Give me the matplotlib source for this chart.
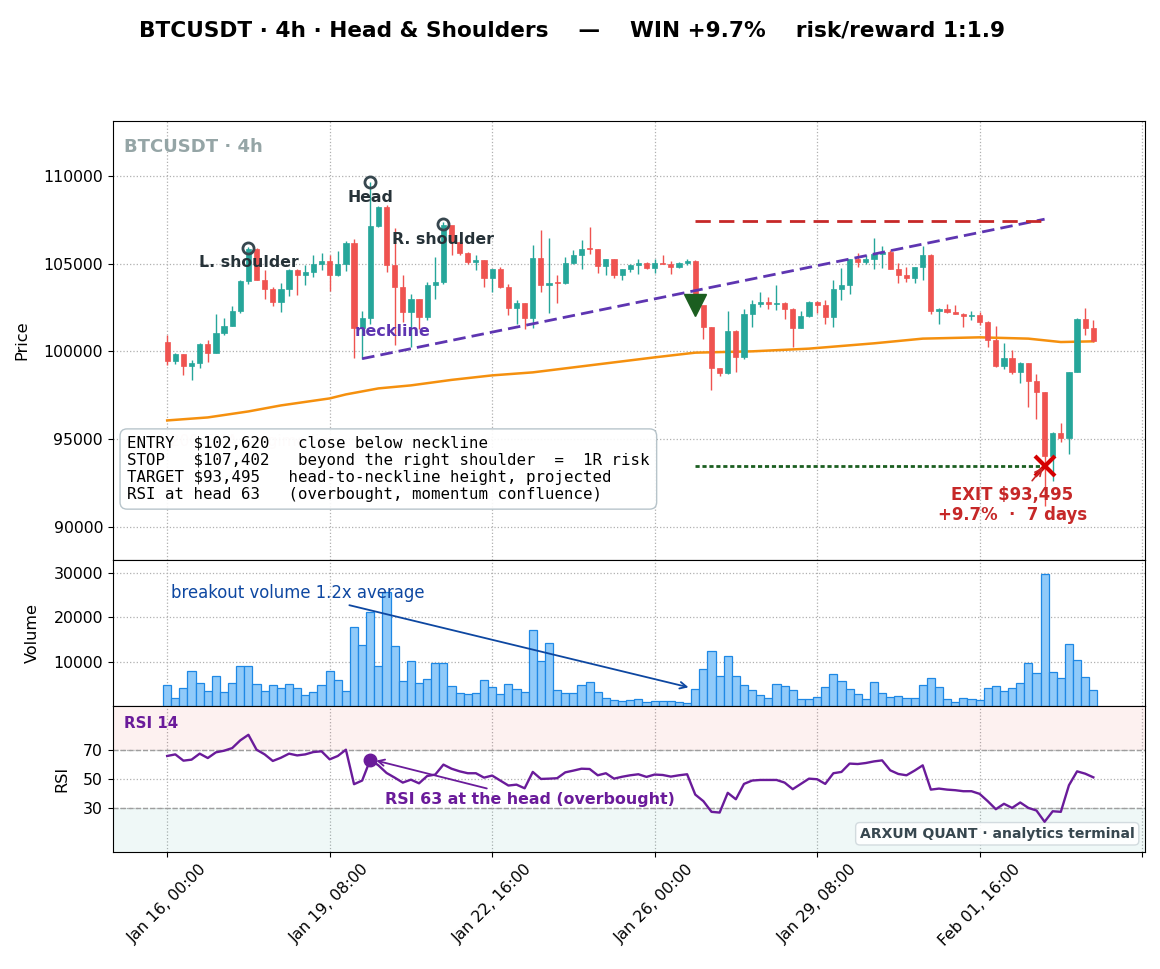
import matplotlib
matplotlib.use("Agg")
import matplotlib.pyplot as plt
import numpy as np
from datetime import datetime, timedelta

# ---- data (4h candles, index 0 = Jan 16 00:00) ----
start = datetime(2025, 1, 16, 0, 0)
first_open = 100535
close = [99452, 99870, 99167, 99338, 100440, 99927, 101068, 101467, 102284, 104034,
         105858, 104091, 103577, 102817, 103577, 104623, 104376, 104527, 105002, 105155,
         104338, 104965, 106200, 101353, 101923, 107132, 108234, 104908, 103672, 102246,
         102969, 101961, 103767, 103976, 107189, 106238, 105611, 105098, 105193, 104204,
         104680, 103672, 102474, 102760, 101904, 105326, 103805, 103919, 103881, 105060,
         105478, 105858, 105820, 104889, 105250, 104338, 104680, 104908, 105060, 104756,
         105060, 105003, 104813, 105041, 105136, 102620, 101391, 99072, 98786, 101144,
         99680, 102113, 102684, 102817, 102722, 102779, 102436, 101353, 102018, 102797,
         102664, 101961, 103577, 103767, 105250, 105098, 105288, 105573, 105668, 104718,
         104376, 104185, 104813, 105478, 102284, 102436, 102246, 102151, 102018, 102094,
         101676, 100631, 99148, 99642, 98825, 99357, 98293, 97682, 94015, 95343,
         95081, 98822, 101868, 101354, 100590]
high = [100916, 99927, 99870, 99528, 100478, 100631, 102151, 101923, 102608, 104091,
        105953, 105896, 104661, 103672, 103900, 104699, 104718, 104908, 105478, 105611,
        105478, 105725, 106295, 106428, 102303, 109622, 108272, 108329, 107056, 104338,
        103292, 102969, 103957, 105383, 107379, 107132, 106333, 105668, 105478, 105193,
        104700, 104813, 103824, 102950, 102760, 106086, 106904, 106466, 104338, 105383,
        105763, 106333, 107094, 105820, 105288, 105250, 104700, 104965, 105288, 105098,
        105288, 105516, 105136, 105098, 105288, 105193, 102608, 101391, 99072, 102303,
        101201, 102436, 102912, 103387, 103102, 103805, 102817, 102474, 102303, 102855,
        102855, 102912, 104053, 104775, 105288, 105630, 105478, 106485, 106010, 105763,
        105041, 104813, 104830, 106010, 105573, 102460, 102722, 102627, 102189, 102284,
        102246, 101714, 101448, 100497, 100060, 99400, 99357, 98691, 97682, 95400,
        95914, 98850, 101900, 102472, 101771]
low = [99205, 99300, 98634, 98387, 99072, 99395, 99927, 100954, 101429, 102189,
       103862, 104053, 103007, 102608, 102246, 103140, 103197, 103767, 104243, 104661,
       103444, 104300, 104566, 99642, 99585, 101581, 107094, 104528, 100345, 101676,
       100250, 101296, 101771, 103007, 103862, 105478, 105478, 105002, 104623, 103672,
       103387, 103634, 102056, 101581, 101258, 101334, 103387, 102189, 102760, 103824,
       105002, 104680, 105573, 104490, 104376, 104204, 104090, 104509, 104433, 104718,
       104490, 104965, 104433, 104775, 104927, 102531, 100725, 97800, 98600, 98730,
       98825, 99585, 101391, 102531, 102436, 102341, 101828, 100250, 101353, 101961,
       102189, 101581, 101391, 102912, 103292, 104813, 104965, 104680, 104775, 104680,
       103919, 103957, 103919, 104090, 102151, 101581, 102189, 102113, 101391, 101771,
       101486, 100250, 99110, 99015, 98730, 98178, 96826, 96164, 91220, 92646,
       94830, 94169, 98800, 100915, 100533]
volume = [4650, 1725, 3970, 7790, 5090, 3300, 6670, 3070, 5090, 9060,
          9060, 4870, 3300, 4650, 3970, 4870, 3970, 2400, 3070, 4650,
          7790, 5770, 3300, 17900, 13860, 21270, 8910, 25690, 13630, 5540,
          10040, 5090, 5990, 9810, 9590, 4420, 2850, 2620, 2850, 5770,
          4190, 2620, 4870, 3750, 3070, 17230, 10040, 14310, 3520, 2850,
          2850, 4650, 5320, 3070, 1725, 1275, 1050, 1275, 1500, 825,
          1050, 1050, 1050, 825, 600, 3750, 8250, 12525, 6675, 11175,
          6675, 4650, 3525, 2400, 1725, 4875, 4425, 3525, 1500, 1500,
          1950, 4200, 7125, 5550, 3750, 2625, 1500, 5325, 2850, 1950,
          2175, 1725, 1725, 4650, 6225, 4200, 1500, 825, 1725, 1500,
          1275, 3975, 4425, 3300, 3975, 5100, 9600, 7350, 29850, 7575,
          6225, 14100, 10275, 6450, 3525]
rsi = [65.7, 66.8, 62.5, 63.2, 67.3, 64.3, 68.2, 69.3, 71.1, 76.4,
       80.2, 70.0, 66.8, 62.3, 64.5, 67.3, 66.1, 66.8, 68.4, 68.9,
       63.4, 65.7, 70.0, 46.4, 48.9, 63.2, 59.3, 54.1, 50.9, 47.5,
       49.5, 47.0, 52.0, 53.0, 59.8, 57.0, 55.2, 53.9, 53.9, 50.9,
       52.3, 48.9, 45.5, 46.1, 43.6, 54.8, 50.0, 50.2, 50.5, 54.5,
       55.7, 57.0, 56.8, 52.5, 53.9, 50.2, 51.5, 52.5, 53.2, 51.4,
       53.0, 52.7, 51.6, 52.5, 53.2, 39.3, 34.8, 27.5, 27.0, 40.5,
       36.1, 46.6, 48.9, 49.3, 49.3, 49.3, 47.5, 43.0, 46.6, 50.2,
       49.8, 46.6, 53.9, 54.8, 60.5, 60.2, 60.9, 62.0, 62.7, 55.9,
       53.4, 52.5, 55.7, 59.3, 42.7, 43.4, 42.7, 42.3, 41.6, 41.6,
       39.8, 34.8, 29.3, 33.0, 30.2, 33.9, 30.2, 28.4, 20.7, 27.9,
       27.5, 45.7, 55.2, 53.6, 51.1]
ema_idx = [0, 5, 10, 14, 20, 22, 26, 30, 35, 40, 45, 51, 60, 65, 72, 79, 87, 93, 100, 106, 110, 114]
ema_val = [96068, 96239, 96581, 96923, 97322, 97550, 97892, 98064, 98377, 98634, 98805, 99147,
           99660, 99928, 100003, 100157, 100459, 100727, 100801, 100727, 100533, 100573]

entry_idx, exit_idx = 65, 108
entry, stop, target = 102620, 107402, 93495
rsi_head = 63
neck_idx = [24, 108]
neck_val = [99585, 107530]
pivots = [(10, 105900, "L. shoulder"), (25, 109622, "Head"), (34, 107250, "R. shoulder")]

UP, DN = "#26a69a", "#ef5350"
PURPLE = "#5e35b1"

n = len(close)
x = np.arange(n)
cl = np.array(close, dtype=float)
op = np.r_[first_open, cl[:-1]]
col = np.where(cl >= op, UP, DN)

fig, axes = plt.subplots(3, 1, sharex=True, figsize=(11.6, 9.69), dpi=100,
                         gridspec_kw={'height_ratios': [3, 1, 1]})
ax1, ax2, ax3 = axes
plt.subplots_adjust(left=0.0972, right=0.987, top=0.8751, bottom=0.1207, hspace=0)
fig.suptitle("BTCUSDT · 4h · Head & Shoulders    —    WIN +9.7%    risk/reward 1:1.9",
             x=0.493, y=0.979, fontsize=15.6, fontweight="bold")

# ---- price panel ----
ax1.vlines(x, low, high, colors=col, lw=1, zorder=2)
body = np.maximum(np.abs(cl - op), 45)
ax1.bar(x, body, bottom=np.minimum(op, cl), width=0.64, color=col, edgecolor=col, lw=0.5, zorder=3)
ax1.plot(ema_idx, ema_val, color="#f5900e", lw=1.8, zorder=2)

ax1.plot(neck_idx, neck_val, color=PURPLE, lw=2, ls=(0, (4.5, 2.2)), zorder=4)
ax1.text(27.8, 101150, "neckline", color=PURPLE, fontsize=11.5, fontweight="bold",
         ha="center", va="center", zorder=5)
ax1.hlines(stop, entry_idx, exit_idx, color="#c62828", lw=2, linestyles=[(0, (5.5, 3))], zorder=4)
ax1.hlines(target, entry_idx, exit_idx - 0.5, color="#1b5e20", lw=2, linestyles=[(0, (1.5, 1))], zorder=4)

for i, h, name in pivots:
    ax1.plot(i, h, "o", ms=8, mfc="none", mec="#37474f", mew=2, zorder=6)
    ax1.text(i, h - 850, name, fontsize=11.3, fontweight="bold", color="#263238",
             ha="center", va="center", zorder=6)

ax1.plot(entry_idx, entry, "v", ms=16, color="#1b5e20", zorder=7)
ax1.plot(exit_idx, target, "x", ms=15, mew=3, color="#d50000", zorder=7)
ax1.annotate("EXIT $93,495\n+9.7%  ·  7 days", xy=(exit_idx, target), xytext=(104, 91250),
             ha="center", va="center", fontsize=11.9, fontweight="bold", color="#c62828",
             arrowprops=dict(arrowstyle="->", color="#c62828", lw=1.2), zorder=7)

ax1.text(0.011, 0.94, "BTCUSDT · 4h", transform=ax1.transAxes, fontsize=13,
         fontweight="bold", color="#95a5a6", va="center")
# EMA caption, mostly hidden behind the info box
ax1.text(0.35, 94640, "200-EMA · regime line", color="#ef9a9a", fontsize=11, alpha=0.35)
info = ("ENTRY  $102,620   close below neckline\n"
        "STOP   $107,402   beyond the right shoulder  =  1R risk\n"
        "TARGET $93,495   head-to-neckline height, projected\n"
        "RSI at head 63   (overbought, momentum confluence)")
ax1.text(0.0139, 0.2066, info, transform=ax1.transAxes, family="DejaVu Sans Mono",
         fontsize=11.3, va="center", ha="left", zorder=8, linespacing=1.17,
         bbox=dict(boxstyle="round,pad=0.45", fc="white", ec="#b0bec5", alpha=0.9))

ax1.set_ylim(88140, 113120)
ax1.set_yticks([90000, 95000, 100000, 105000, 110000])
ax1.set_ylabel("Price", fontsize=11.6, labelpad=10)

# ---- volume panel ----
ax2.bar(x, volume, width=1.0, color="#90caf9", edgecolor="#1e88e5", lw=0.9, zorder=3)
ax2.annotate("breakout volume 1.2x average", xy=(entry_idx - 0.5, volume[entry_idx] + 300),
             xytext=(0.5, 25600), ha="left", va="center", fontsize=11.9, color="#0d47a1",
             arrowprops=dict(arrowstyle="->", color="#0d47a1", lw=1.3), zorder=5)
ax2.set_ylim(0, 33100)
ax2.set_yticks([10000, 20000, 30000])
ax2.set_ylabel("Volume", fontsize=11.6, labelpad=10)

# ---- RSI panel ----
ax3.axhspan(70, 100, color="#e53935", alpha=0.07, lw=0)
ax3.axhspan(0, 30, color="#26a69a", alpha=0.07, lw=0)
ax3.axhline(70, color="#9e9e9e", ls="--", lw=1)
ax3.axhline(30, color="#9e9e9e", ls="--", lw=1)
ax3.plot(x, rsi, color="#6a1b9a", lw=1.7, zorder=4)
ax3.plot(25, rsi_head, "o", ms=9, color="#6a1b9a", zorder=5)
ax3.annotate("RSI 63 at the head (overbought)", xy=(25.4, rsi_head), xytext=(44.7, 36),
             ha="center", va="center", fontsize=11.4, fontweight="bold", color="#6a1b9a",
             arrowprops=dict(arrowstyle="->", color="#6a1b9a", lw=1.3), zorder=5)
ax3.text(0.011, 0.877, "RSI 14", transform=ax3.transAxes, fontsize=10.8,
         fontweight="bold", color="#6a1b9a", va="center")
ax3.text(0.99, 0.125, "ARXUM QUANT · analytics terminal", transform=ax3.transAxes,
         fontsize=10.1, fontweight="bold", color="#37474f", ha="right", va="center",
         bbox=dict(boxstyle="round,pad=0.3", fc="white", ec="#cfd8dc", alpha=0.9))
ax3.set_ylim(0, 100)
ax3.set_yticks([30, 50, 70])
ax3.set_ylabel("RSI", fontsize=11.6, labelpad=10)

ticks = np.arange(0, 121, 20)
labels = [(start + timedelta(hours=4 * int(t))).strftime("%b %d, %H:%M") if t < n else "" for t in ticks]
ax3.set_xticks(ticks)
ax3.set_xticklabels(labels, rotation=45)
ax3.set_xlim(-6.7, 120.35)

for ax in axes:
    ax.grid(True, ls=":", color="#b0b0b0", lw=0.9)
    ax.set_axisbelow(True)
    ax.tick_params(labelsize=11.3)

plt.savefig("out.png", dpi=100)
